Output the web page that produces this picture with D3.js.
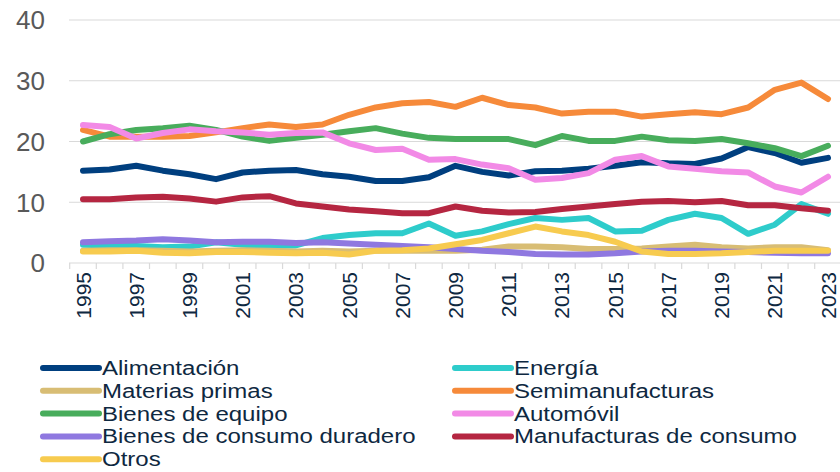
<!DOCTYPE html>
<html><head><meta charset="utf-8">
<script src="https://cdn.jsdelivr.net/npm/d3@7"></script>
<style>body{margin:0;background:#fff;} svg{display:block;font-family:"Liberation Sans",Arial,sans-serif;}</style>
</head><body><svg id="c" width="840" height="472"></svg>
<script>
const years = d3.range(1995, 2024);
const yTicks = [0, 10, 20, 30, 40];
const seriesNames = ["Alimentación","Energía","Materias primas","Semimanufacturas","Bienes de equipo","Automóvil","Bienes de consumo duradero","Manufacturas de consumo","Otros"];
const seriesColors = ["#003f7f","#2ecccb","#d8bd74","#f68a3a","#48ad5c","#f28ae6","#8f78e0","#b52641","#f7cb4f"];
const alimentacion = [15.2,15.4,16.0,15.2,14.6,13.8,14.9,15.2,15.3,14.6,14.2,13.5,13.5,14.1,16.0,15.0,14.4,15.1,15.2,15.5,16.0,16.6,16.4,16.3,17.2,19.1,18.1,16.5,17.3];
const energia = [3.0,2.9,2.8,2.6,2.7,3.4,3.0,2.8,2.9,4.1,4.6,4.9,4.9,6.5,4.5,5.2,6.4,7.4,7.1,7.4,5.2,5.3,7.1,8.1,7.4,4.8,6.3,9.7,8.1];
const materias = [2.0,2.1,2.1,2.0,1.9,2.0,2.1,2.0,1.9,2.0,1.9,2.0,2.0,2.0,2.0,2.2,2.7,2.7,2.6,2.3,2.3,2.4,2.7,3.0,2.6,2.4,2.6,2.6,2.1];
const semimanuf = [21.9,20.8,20.8,20.8,20.9,21.5,22.2,22.8,22.4,22.8,24.4,25.6,26.3,26.5,25.7,27.2,26.0,25.6,24.6,24.9,24.9,24.1,24.5,24.8,24.5,25.6,28.5,29.7,27.0];
const equipo = [20.0,21.2,21.9,22.2,22.6,21.9,20.8,20.1,20.6,21.1,21.7,22.2,21.3,20.6,20.4,20.4,20.4,19.4,20.9,20.1,20.1,20.8,20.2,20.1,20.4,19.7,18.9,17.6,19.3];
const automovil = [22.7,22.4,20.5,21.4,22.0,21.7,21.5,21.1,21.4,21.5,19.7,18.6,18.8,17.0,17.1,16.2,15.6,13.7,14.0,14.8,17.0,17.6,15.9,15.5,15.1,14.9,12.6,11.6,14.2];
const duradero = [3.4,3.6,3.7,3.9,3.7,3.4,3.5,3.5,3.3,3.4,3.2,3.0,2.8,2.6,2.3,2.0,1.8,1.5,1.4,1.4,1.6,1.9,2.0,2.0,1.9,1.8,1.7,1.6,1.6];
const manufConsumo = [10.5,10.5,10.8,10.9,10.6,10.1,10.8,11.0,9.8,9.3,8.8,8.5,8.2,8.2,9.3,8.6,8.3,8.4,8.9,9.3,9.7,10.1,10.2,10.0,10.2,9.5,9.5,9.0,8.6];
const otros = [1.9,1.9,2.0,1.7,1.6,1.8,1.8,1.7,1.6,1.7,1.4,2.0,2.1,2.4,3.1,3.8,4.9,6.0,5.2,4.6,3.5,1.9,1.5,1.5,1.6,1.8,2.0,2.0,2.0];
const seriesValues = [alimentacion, energia, materias, semimanuf, equipo, automovil, duradero, manufConsumo, otros];

const svg = d3.select("#c");
const x = d3.scalePoint().domain(years).range([83, 828]);
const step = x.step();
const y = d3.scaleLinear().domain([0, 40]).range([263, 20]);

// gridlines
svg.append("g").selectAll("line").data(yTicks.filter(d => d > 0)).join("line")
  .attr("x1", 69).attr("x2", 840).attr("y1", d => y(d)).attr("y2", d => y(d))
  .attr("stroke", "#d9d9d9").attr("stroke-width", 1.2);

// y labels
svg.append("g").selectAll("text").data(yTicks).join("text")
  .attr("x", 45).attr("y", d => y(d)).attr("dy", "0.36em")
  .attr("text-anchor", "end").attr("fill", "#595959").attr("font-size", 26)
  .text(d => d);

// x axis
const xa = svg.append("g");
xa.append("line").attr("x1", 69).attr("x2", 840).attr("y1", y(0)).attr("y2", y(0))
  .attr("stroke", "#d9d9d9").attr("stroke-width", 1.2);
const bounds = years.map(yr => x(yr) - step / 2).concat([x(2023) + step / 2]);
xa.selectAll("line.t").data(bounds).join("line").attr("class", "t")
  .attr("x1", d => d).attr("x2", d => d).attr("y1", y(0)).attr("y2", y(0) + 6)
  .attr("stroke", "#d9d9d9").attr("stroke-width", 1.2);
xa.selectAll("text").data(years.filter((d, i) => i % 2 === 0)).join("text")
  .attr("transform", d => `translate(${x(d)},272) rotate(-90)`)
  .attr("text-anchor", "end").attr("dy", "0.36em")
  .attr("fill", "#0e2841").attr("font-size", 21)
  .text(d => d);

// lines
const line = d3.line().x((d, i) => x(years[i])).y(d => y(d));
svg.append("g").selectAll("path").data(seriesValues).join("path")
  .attr("d", d => line(d)).attr("fill", "none")
  .attr("stroke", (d, i) => seriesColors[i]).attr("stroke-width", 6)
  .attr("stroke-linejoin", "round").attr("stroke-linecap", "round");

// legend
const lg = svg.append("g");
const rowY = i => 368 + Math.floor(i / 2) * 22.8;
const colX = i => (i % 2 === 0 ? 43 : 455);
const items = lg.selectAll("g").data(seriesNames).join("g");
items.append("line")
  .attr("x1", (d, i) => colX(i)).attr("x2", (d, i) => colX(i) + 56)
  .attr("y1", (d, i) => rowY(i)).attr("y2", (d, i) => rowY(i))
  .attr("stroke", (d, i) => seriesColors[i]).attr("stroke-width", 6).attr("stroke-linecap", "round");
items.append("text")
  .attr("x", (d, i) => colX(i) + 59).attr("y", (d, i) => rowY(i)).attr("dy", "0.36em")
  .attr("fill", "#0e2841").attr("font-size", 19.5)
  .text(d => d)
  .each(function () {
    const w = this.getComputedTextLength();
    d3.select(this).attr("textLength", w * 24 / 19.5).attr("lengthAdjust", "spacingAndGlyphs");
  });
</script></body></html>
